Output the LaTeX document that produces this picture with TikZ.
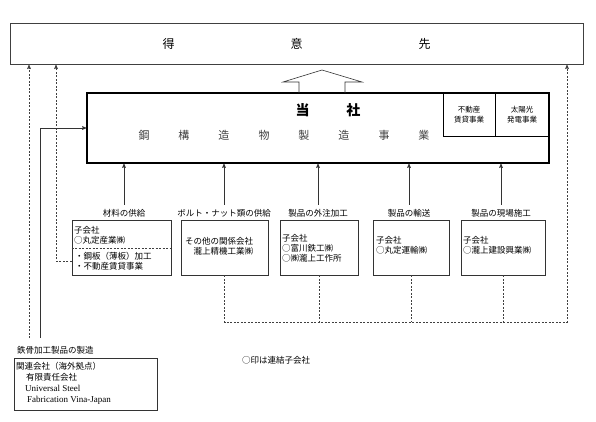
\documentclass[tikz,border=0pt]{standalone}
\usepackage{fontspec}
\setmainfont{Noto Sans CJK JP}
\newfontfamily\latfont{Liberation Serif}
\usetikzlibrary{arrows,positioning}

\begin{document}
\begin{tikzpicture}[>=stealth',x=1pt,y=-1pt,
  box/.style={draw=black!80,line width=0.6pt,rectangle,inner sep=0pt},
  txt/.style={inner sep=0pt,font=\fontsize{8.5}{10}\selectfont,align=left},
  lbl/.style={inner sep=0pt,font=\fontsize{8.5}{10}\selectfont},
  link/.style={draw=black!80,line width=0.6pt},
  dlink/.style={draw=black!75,line width=0.6pt,dash pattern=on 2pt off 1.5pt}]

	\useasboundingbox (0,0) rectangle (596,421);

	% Customers and the company
	\node [box,draw=black!75,minimum width=573pt,minimum height=41pt] at (296.5,44) (cust) {};
	\node [font=\fontsize{12}{12}\selectfont] at (cust) (custT) {得\hspace{116pt}意\hspace{116pt}先};
	\node [box,draw=black,line width=1.4pt,minimum width=462pt,minimum height=70pt] at (318,128) (dang) {};
	\node [box,draw=black,minimum width=52pt,minimum height=43pt,align=center,font=\fontsize{7.5}{10}\selectfont] at (469,114.5) (fudo) {不動産\\賃貸事業};
	\node [box,draw=black,minimum width=54pt,minimum height=43pt,align=center,font=\fontsize{7.5}{10}\selectfont] at (522,114.5) (solar) {太陽光\\発電事業};
	\node [font=\bfseries\fontsize{14}{14}\selectfont] at (328,110) (dangT) {当\hspace{37pt}社};
	\node [font=\fontsize{11}{11}\selectfont,text=black!75] at (284,135) (dangB) {鋼\hspace{29pt}構\hspace{29pt}造\hspace{29pt}物\hspace{29pt}製\hspace{29pt}造\hspace{29pt}事\hspace{29pt}業};

	% Big arrow
	\draw [black!80,line width=0.6pt] (299,93) -- (299,82) -- (283,82) -- (322,70) -- (362,82) -- (345,82) -- (345,93);

	% Group companies
	\node [box,minimum width=99pt,minimum height=55pt] at (121.5,247.5) (b1) {};
	\node [box,minimum width=87pt,minimum height=55pt] at (224.5,247.5) (b2) {};
	\node [box,minimum width=78pt,minimum height=55pt] at (319,247.5) (b3) {};
	\node [box,minimum width=76pt,minimum height=55pt] at (411,247.5) (b4) {};
	\node [box,minimum width=84pt,minimum height=55pt] at (503,247.5) (b5) {};

	\node [lbl] at (124,213) (l1) {材料の供給};
	\node [lbl] at (224,213) (l2) {ボルト・ナット類の供給};
	\node [lbl] at (318,213) (l3) {製品の外注加工};
	\node [lbl] at (409,213) (l4) {製品の輸送};
	\node [lbl] at (501,213) (l5) {製品の現場施工};

	\node [txt,anchor=west] at (74,235) (b1a) {子会社\\○丸定産業㈱};
	\draw [dlink] (b1.west |- 0,248) -- (b1.east |- 0,248);
	\node [txt,anchor=west] at (75,261) (b1b) {・鋼板（薄板）加工\\・不動産賃貸事業};
	\node [txt,anchor=west] at (185,246) (b2a) {その他の関係会社\\\hspace*{1em}瀧上精機工業㈱};
	\node [txt,anchor=west] at (282,248) (b3a) {子会社\\○富川鉄工㈱\\○㈱瀧上工作所};
	\node [txt,anchor=west] at (376,245) (b4a) {子会社\\○丸定運輸㈱};
	\node [txt,anchor=west] at (463,245) (b5a) {子会社\\○瀧上建設興業㈱};

	% Supply edges
	\foreach \l in {l1,l2,l3,l4,l5}
	  \draw [link,->,shorten <=4pt] (\l.north) -- (\l.north |- dang.south);

	% Dashed edges to customers
	\coordinate (dR) at (567,322);
	\draw [dlink,->] (b2.south) |- (dR) -- (dR |- cust.south);
	\foreach \b in {b3,b4,b5}
	  \draw [dlink] (\b.south) -- (\b.south |- dR);
	\coordinate (d1) at (56,261);
	\draw [dlink,->] (b1.west |- d1) -- (d1) -- (d1 |- cust.south);

	% Overseas affiliate
	\node [lbl,anchor=west] at (17,350) (lf) {鉄骨加工製品の製造};
	\node [box,minimum width=143pt,minimum height=52pt] at (85.5,384) (fab) {};
	\node [txt,anchor=west,font=\fontsize{8.5}{11}\selectfont] at (16,383) (fabT) {関連会社（海外拠点）\\\hspace*{10pt}有限責任会社\\\hspace*{9pt}{\latfont\fontsize{9}{11}\selectfont Universal Steel}\\\hspace*{11pt}{\latfont\fontsize{9}{11}\selectfont Fabrication Vina-Japan}};
	\coordinate (fS) at (40,338);
	\coordinate (fD) at (29,338);
	\draw [link,->] (fS) |- (dang.west);
	\draw [dlink,->] (fD) -- (fD |- cust.south);

	\node [lbl,anchor=west] at (242,360) (note) {○印は連結子会社};

\end{tikzpicture}
\end{document}
